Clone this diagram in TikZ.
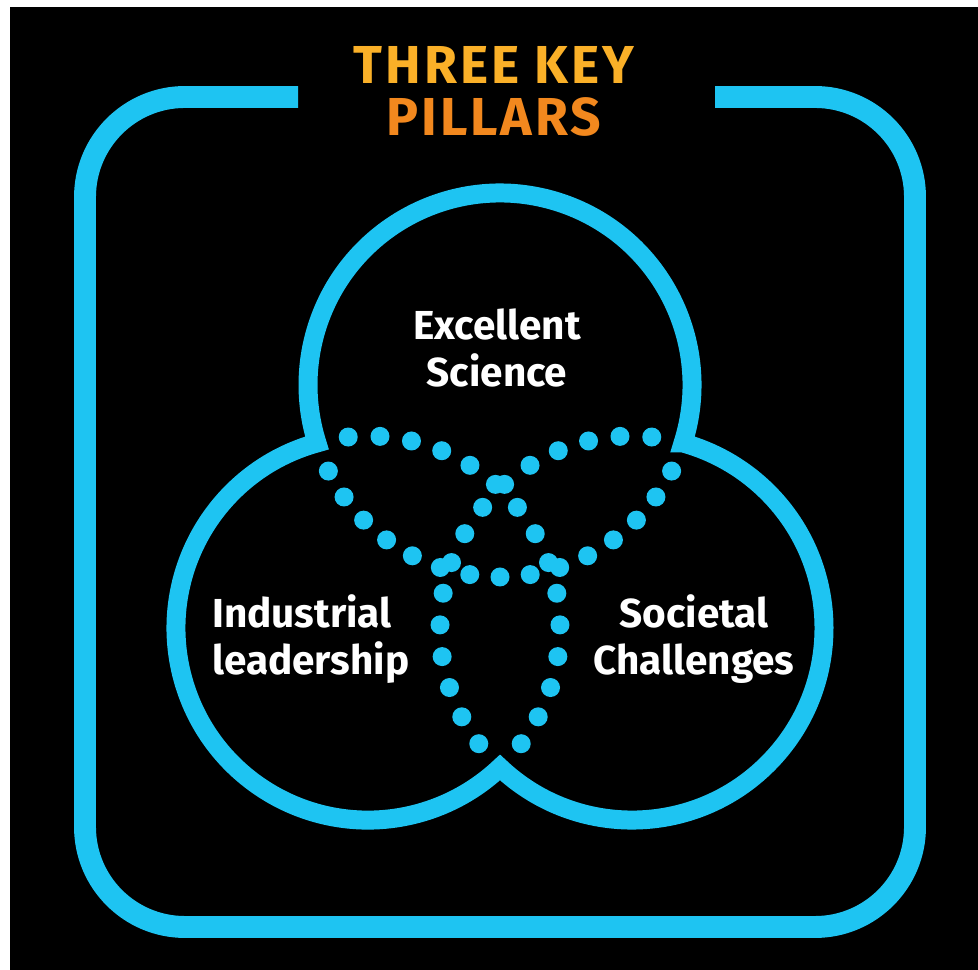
\documentclass[tikz,border=0pt]{standalone}
\usepackage{fontspec}
\setmainfont{Fira Sans}
\usepackage{tikz}
\usetikzlibrary{positioning}

\definecolor{pillarblue}{RGB}{30,196,242}
\definecolor{titleyellow}{RGB}{250,176,40}
\definecolor{titleorange}{RGB}{242,136,30}

\tikzset{
  outerframe/.style={draw=pillarblue, line width=15.6pt},
  pillarline/.style={draw=pillarblue, line width=13.5pt, line join=miter},
  venndot/.style={fill=pillarblue},
  pillartext/.style={text=white, inner sep=0pt, font=\bfseries\fontsize{28.8}{34}\selectfont}
}

\begin{document}
\begin{tikzpicture}[x=0.025cm, y=0.025cm]
  % background, white strip on the left and at the top
  \fill[white] (0,0) rectangle (978,970);
  \fill[black] (10,0) rectangle (978,963);
  \useasboundingbox (0,0) rectangle (978,970);

  % frame with a gap for the title
  \draw[outerframe, rounded corners=2.5cm] (298,873) -- (85,873) -- (85,43) -- (915,43) -- (915,873) -- (715,873);

  \node[align=center, inner sep=0pt, font=\bfseries\fontsize{38}{37}\selectfont\addfontfeature{LetterSpace=5.5}] (title) at (494,879)
    {\textcolor{titleyellow}{THREE KEY}\\\textcolor{titleorange}{PILLARS}};

  % circle centres
  \coordinate (sci) at (500,585);
  \coordinate (ind) at (368,342);
  \coordinate (soc) at (632,342);

  % outer outline of the three circles
  \draw[pillarline] (sci) ++(-17.58:192) arc[start angle=-17.58, end angle=197.58, radius=192]
    arc[start angle=105.41, end angle=313.44, radius=192]
    arc[start angle=226.56, end angle=434.59, radius=192] -- cycle;

  % dotted inner arcs
  \foreach \i in {1,...,15} {
    \fill[venndot] (sci) ++({197.58+9.0525*\i}:192) circle[radius=9.5];
    \fill[venndot] (ind) ++({-46.56+9.498*\i}:192) circle[radius=9.5];
    \fill[venndot] (soc) ++({74.59+9.498*\i}:192) circle[radius=9.5];
  }

  \node[pillartext, align=center] (scitext) at (497,622) {Excellent\\Science};
  \node[pillartext, align=left, anchor=west] (indtext) at (212,331) {Industrial\\leadership};
  \node[pillartext, align=center] (soctext) at (694,331) {Societal\\Challenges};
\end{tikzpicture}
\end{document}
